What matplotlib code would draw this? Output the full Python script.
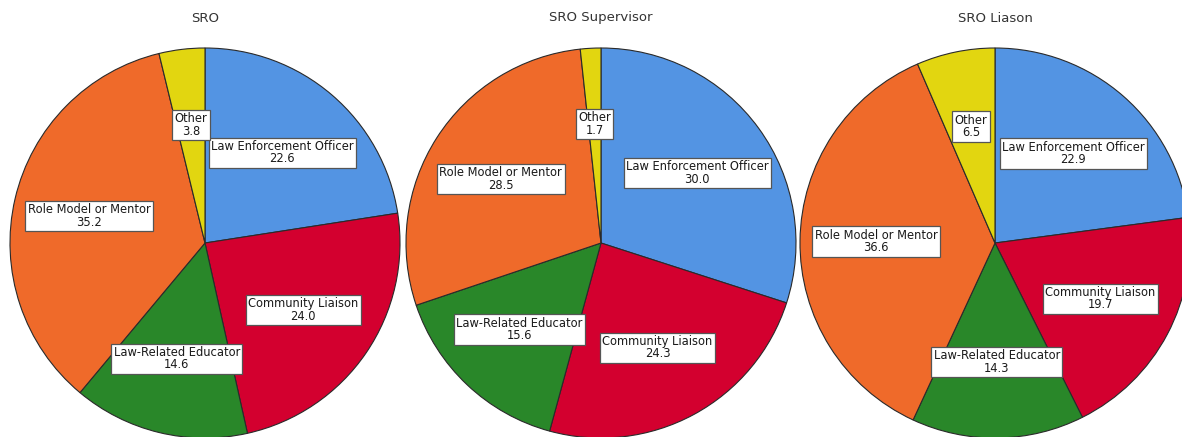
import numpy as np
import matplotlib
matplotlib.use("Agg")
import matplotlib.pyplot as plt

categories = ["Law Enforcement Officer", "Community Liaison", "Law-Related Educator",
              "Role Model or Mentor", "Other"]
sro_values = [22.6, 24.0, 14.6, 35.2, 3.8]
supervisor_values = [30.0, 24.3, 15.6, 28.5, 1.7]
liaison_values = [22.9, 19.7, 14.3, 36.6, 6.5]
titles = ["SRO", "SRO Supervisor", "SRO Liason"]
colors = ["#5394E3", "#D3002F", "#298729", "#EF6A2A", "#E2D610"]

W, H = 1182, 437
fig = plt.figure(figsize=(W / 100, H / 100), dpi=100)
ax = fig.add_axes([0, 0, 1, 1])

centers_x = [205, 601, 995]
center_y = H - 243
radius = 195
label_frac = 0.61

for vals, title, cx in zip([sro_values, supervisor_values, liaison_values], titles, centers_x):
    wedges, _ = ax.pie(vals, colors=colors, startangle=90, counterclock=False,
                       center=(cx, center_y), radius=radius, normalize=True,
                       wedgeprops=dict(edgecolor="#2a2a2a", linewidth=0.8))
    for w, cat, v in zip(wedges, categories, vals):
        mid = np.deg2rad((w.theta1 + w.theta2) / 2)
        x = cx + label_frac * radius * np.cos(mid)
        y = center_y + label_frac * radius * np.sin(mid)
        ax.text(x, y, f"{cat}\n{v:.1f}", ha="center", va="center", fontsize=8.3,
                color="#1a1a1a", linespacing=0.95, family="DejaVu Sans",
                bbox=dict(boxstyle="square,pad=0.2", facecolor="white",
                          edgecolor="#555555", linewidth=0.9))
    ax.text(cx, H - 18, title, ha="center", va="center", fontsize=9.5, color="#333333")

ax.set_xlim(0, W)
ax.set_ylim(0, H)
ax.set_aspect("equal")
ax.axis("off")

fig.savefig("out.png", dpi=100, facecolor="white")
